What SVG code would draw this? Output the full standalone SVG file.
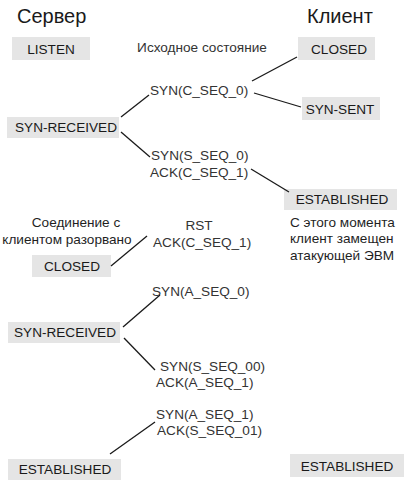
<svg xmlns="http://www.w3.org/2000/svg" width="410" height="486" viewBox="0 0 410 486">
<style>
text{font-family:"Liberation Sans",Arial,sans-serif;font-size:13.6px;}
.hdr{font-size:20px;fill:#1a1a1a;}
.st rect{fill:#e5e5e5;}
.st text{fill:#1a1a1a;text-anchor:middle;}
.msg{fill:#333;}
.note{fill:#1f1f1f;}
.c line{stroke:#1a1a1a;stroke-width:1.3;}
</style>
<rect width="410" height="486" fill="#fff"/>
<text class="hdr" x="17" y="23">Сервер</text>
<text class="hdr" x="307" y="23">Клиент</text>

<g id="listen" class="st"><rect x="12" y="37" width="78" height="23"/><text x="51" y="54">LISTEN</text></g>
<g id="closed-client" class="st"><rect x="298" y="37" width="77" height="23"/><text x="339" y="54">CLOSED</text></g>
<g id="syn-sent" class="st"><rect x="302" y="97" width="78" height="23"/><text x="340" y="114">SYN-SENT</text></g>
<g id="syn-received-1" class="st"><rect x="7" y="117" width="112" height="21"/><text x="66" y="132">SYN-RECEIVED</text></g>
<g id="established-client-1" class="st"><rect x="284" y="189" width="113" height="21"/><text x="342" y="204">ESTABLISHED</text></g>
<g id="closed-server" class="st"><rect x="32" y="255" width="79" height="22"/><text x="72" y="271">CLOSED</text></g>
<g id="syn-received-2" class="st"><rect x="8" y="322" width="112" height="21"/><text x="65" y="337">SYN-RECEIVED</text></g>
<g id="established-server" class="st"><rect x="8" y="459" width="113" height="21"/><text x="65" y="474">ESTABLISHED</text></g>
<g id="established-client-2" class="st"><rect x="290" y="454" width="114" height="23"/><text x="347" y="471">ESTABLISHED</text></g>

<g id="labels">
<text class="msg" x="202" y="52" text-anchor="middle">Исходное состояние</text>
<text class="msg" x="150" y="95">SYN(C_SEQ_0)</text>
<text class="msg" x="151" y="160">SYN(S_SEQ_0)</text>
<text class="msg" x="150" y="177">ACK(C_SEQ_1)</text>
<text class="msg" x="199" y="230" text-anchor="middle">RST</text>
<text class="msg" x="153" y="247">ACK(C_SEQ_1)</text>
<text class="note" x="76" y="227" text-anchor="middle">Соединение с</text>
<text class="note" x="67" y="244" text-anchor="middle">клиентом разорвано</text>
<text class="note" x="290" y="227">С этого момента</text>
<text class="note" x="290" y="243">клиент замещен</text>
<text class="note" x="290" y="260">атакующей ЭВМ</text>
<text class="msg" x="152" y="296">SYN(A_SEQ_0)</text>
<text class="msg" x="160" y="371">SYN(S_SEQ_00)</text>
<text class="msg" x="156" y="387">ACK(A_SEQ_1)</text>
<text class="msg" x="156" y="419">SYN(A_SEQ_1)</text>
<text class="msg" x="157" y="435">ACK(S_SEQ_01)</text>
</g>

<g id="connectors" class="c">
<line x1="297" y1="57" x2="252" y2="81"/>
<line x1="254" y1="93" x2="301" y2="107"/>
<line x1="121" y1="117" x2="149" y2="95"/>
<line x1="121" y1="132" x2="150" y2="157"/>
<line x1="251" y1="169" x2="289" y2="192"/>
<line x1="147" y1="236" x2="111" y2="266"/>
<line x1="123" y1="327" x2="160" y2="295"/>
<line x1="124" y1="338" x2="155" y2="370"/>
<line x1="155" y1="422" x2="110" y2="454"/>
</g>
</svg>
